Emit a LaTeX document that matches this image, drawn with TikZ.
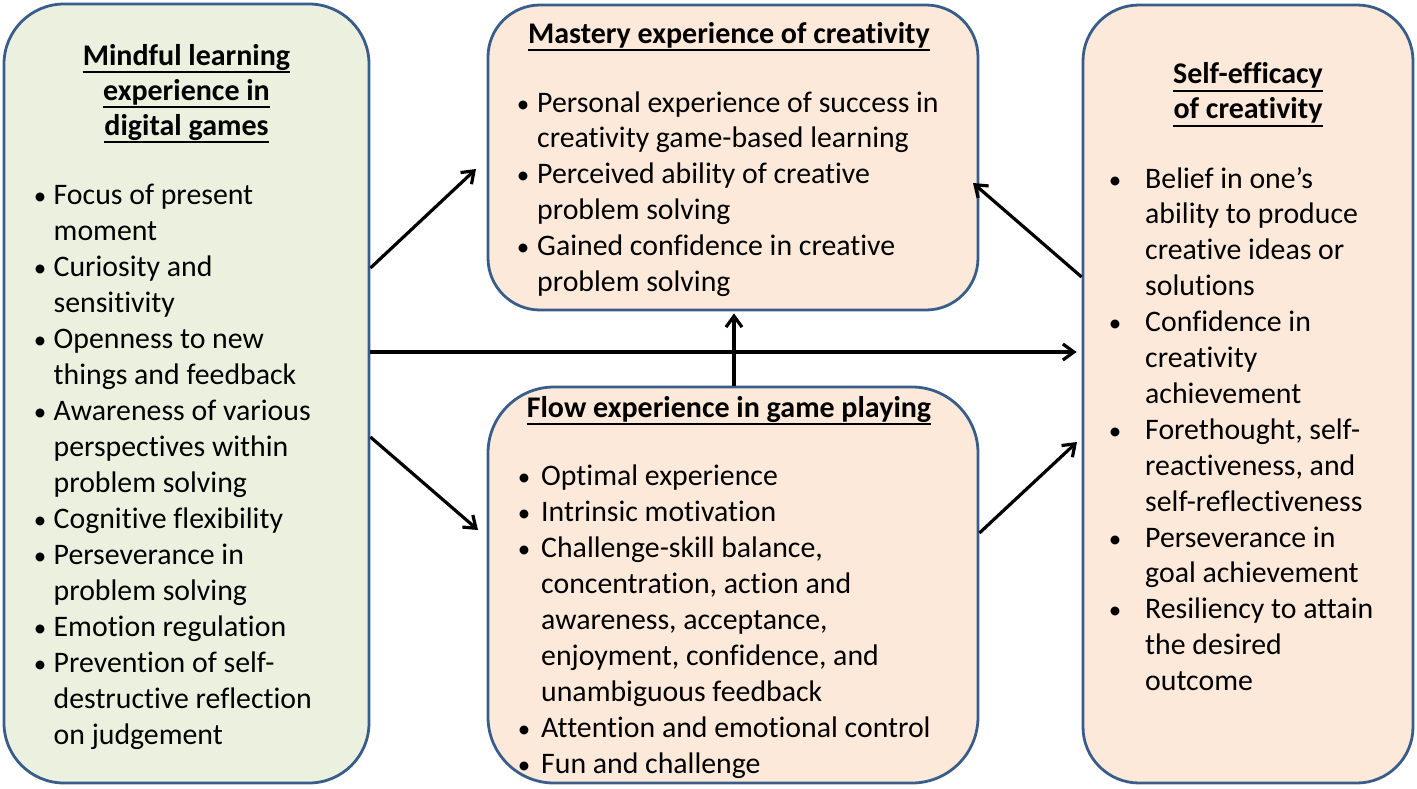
\documentclass[tikz,border=0pt]{standalone}
\usepackage{fontspec}
\setmainfont{Carlito}[Ligatures=NoCommon]
\usetikzlibrary{arrows.meta}
\definecolor{bord}{HTML}{385D8A}
\definecolor{gfill}{HTML}{EBF1DE}
\definecolor{ofill}{HTML}{FDE9D9}
\tikzset{
 box/.style={draw=bord, line width=2.8pt, rounded corners=#1, inner sep=0pt},
 txt/.style={anchor=base west, inner sep=0pt, font=\fontsize{29.8}{34}\selectfont},
 bul/.style={anchor=base, inner sep=0pt, font=\fontsize{25}{34}\selectfont},
 head/.style={anchor=base, inner sep=0pt, font=\fontsize{30}{34}\selectfont\bfseries},
 ul/.style={line width=1.8pt},
 arr/.style={line width=3.2pt, -{Straight Barb[length=11pt,width=16pt,line width=3.2pt]}}
}
\begin{document}
\begin{tikzpicture}[x=1pt,y=-1pt]
\useasboundingbox (0,0) rectangle (1417,788);
% boxes
\node[box=60pt, fill=gfill, minimum width=365pt, minimum height=779pt] (L) at (186.5,393.5) {};
\node[box=52pt, fill=ofill, minimum width=490pt, minimum height=305pt] (M) at (733,157.5) {};
\node[box=66pt, fill=ofill, minimum width=490pt, minimum height=396pt] (F) at (733,585) {};
\node[box=56pt, fill=ofill, minimum width=330pt, minimum height=778pt] (S) at (1248,394) {};
% headings
\foreach \t [count=\k from 0] in {Mindful learning, experience in, digital games} {
  \node[head] (Lh\k) at (186.5,65+35*\k) {\t};
  \draw[ul] ([yshift=-7pt]Lh\k.base west) -- ([yshift=-7pt]Lh\k.base east);
}
\node[head] (Mh) at (729,43) {Mastery experience of creativity};
\draw[ul] ([yshift=-7pt]Mh.base west) -- ([yshift=-7pt]Mh.base east);
\node[head] (Fh) at (729,417) {Flow experience in game playing};
\draw[ul] ([yshift=-7pt]Fh.base west) -- ([yshift=-7pt]Fh.base east);
\foreach \t [count=\k from 0] in {Self-efficacy, of creativity} {
  \node[head] (Sh\k) at (1248,83+35*\k) {\t};
  \draw[ul] ([yshift=-8pt]Sh\k.base west) -- ([yshift=-8pt]Sh\k.base east);
}
% left list
\foreach \b/\t [count=\k from 0] in {1/Focus of present, 0/moment, 1/Curiosity and, 0/sensitivity, 1/Openness to new, 0/things and feedback, 1/Awareness of various, 0/perspectives within, 0/problem solving, 1/Cognitive flexibility, 1/Perseverance in, 0/problem solving, 1/Emotion regulation, 1/Prevention of self-, 0/destructive reflection, 0/on judgement} {
  \node[txt] (Lt\k) at (53.5,204+36*\k) {\t};
  \ifnum\b=1 \node[bul] (Lb\k) at (40,204+36*\k) {•}; \fi
}
% mastery list
\foreach \b/\t [count=\k from 0] in {1/Personal experience of success in, 0/creativity game-based learning, 1/Perceived ability of creative, 0/problem solving, 1/Gained confidence in creative, 0/problem solving} {
  \node[txt] (Mt\k) at (537,112+35.8*\k) {\t};
  \ifnum\b=1 \node[bul] (Mb\k) at (523,112+35.8*\k) {•}; \fi
}
% flow list
\foreach \b/\t [count=\k from 0] in {1/Optimal experience, 1/Intrinsic motivation, 1/{Challenge-skill balance,}, 0/{concentration, action and}, 0/{awareness, acceptance,}, 0/{enjoyment, confidence, and}, 0/unambiguous feedback, 1/Attention and emotional control, 1/Fun and challenge} {
  \node[txt] (Ft\k) at (541,485+36*\k) {\t};
  \ifnum\b=1 \node[bul] (Fb\k) at (524,485+36*\k) {•}; \fi
}
% self list
\foreach \b/\t [count=\k from 0] in {1/Belief in one’s, 0/ability to produce, 0/creative ideas or, 0/solutions, 1/Confidence in, 0/creativity, 0/achievement, 1/{Forethought, self-}, 0/{reactiveness, and}, 0/self-reflectiveness, 1/Perseverance in, 0/goal achievement, 1/Resiliency to attain, 0/the desired, 0/outcome} {
  \node[txt] (St\k) at (1145,188+35.9*\k) {\t};
  \ifnum\b=1 \node[bul] (Sb\k) at (1115,188+35.9*\k) {•}; \fi
}
% arrows
\coordinate (y268) at (0,268);
\coordinate (y352) at (0,352);
\coordinate (y437) at (0,437);
\coordinate (y277) at (0,277);
\coordinate (y533) at (0,533);
\coordinate (x734) at (734,0);
\coordinate (t1) at (476,169);
\coordinate (t3) at (478,530);
\coordinate (t5) at (973,183);
\coordinate (t6) at (1077,442);
\draw[arr] (L.east |- y268) -- (t1);
\draw[arr] (L.east |- y352) -- ([xshift=-5pt]S.west |- y352);
\draw[arr] (L.east |- y437) -- (t3);
\draw[arr] (F.north -| x734) -- ([yshift=-2pt]M.south -| x734);
\draw[arr] (S.west |- y277) -- (t5);
\draw[arr] (F.east |- y533) -- (t6);
\end{tikzpicture}
\end{document}
